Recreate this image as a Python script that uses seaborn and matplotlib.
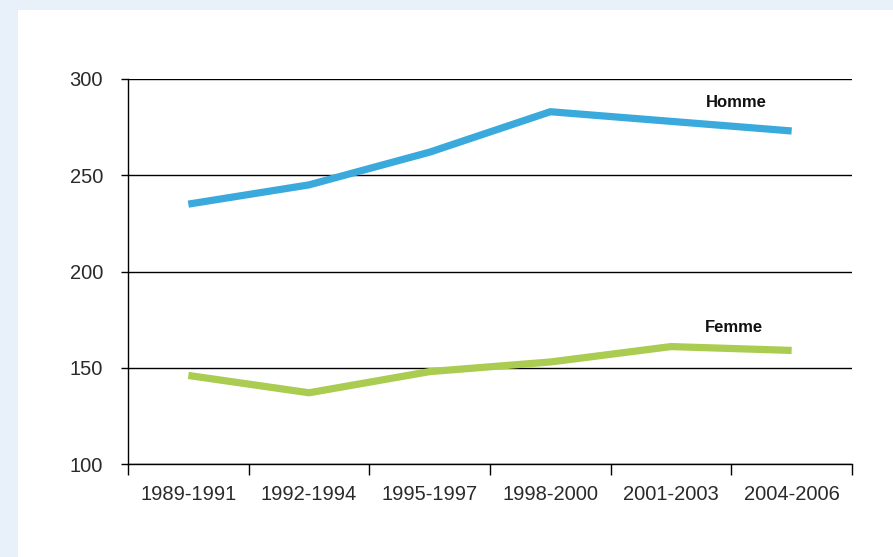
import matplotlib
matplotlib.use("Agg")
import matplotlib.pyplot as plt
import matplotlib.patches as mpatches
import seaborn as sns
import pandas as pd

# values
periods = ["1989-1991", "1992-1994", "1995-1997", "1998-2000", "2001-2003", "2004-2006"]
homme = [235, 245, 262, 283, 278, 273]
femme = [146, 137, 148, 153, 161, 159]

blue = "#3aaadc"
green = "#aacc50"

sns.set_theme(style="white")
plt.rcParams["font.family"] = ["Liberation Sans", "DejaVu Sans"]

df = pd.DataFrame({"periode": periods, "Homme": homme, "Femme": femme})
long_df = df.melt(id_vars="periode", var_name="sexe", value_name="valeur")

fig = plt.figure(figsize=(8.93, 5.57), dpi=100, facecolor="#e8f1f9")
# white card over the light blue background
card = mpatches.Rectangle((18 / 893, 0), 1, (557 - 10) / 557,
                          transform=fig.transFigure, facecolor="white",
                          edgecolor="none", zorder=-10)
fig.patches.append(card)
ax = fig.add_axes([128 / 893, 93 / 557, 724 / 893, 385 / 557])
ax.set_zorder(5)
ax.set_facecolor("white")

sns.lineplot(data=long_df, x="periode", y="valeur", hue="sexe",
             palette={"Homme": blue, "Femme": green}, linewidth=5.2,
             legend=False, ax=ax, zorder=3)
for line in ax.lines:
    line.set_solid_capstyle("butt")
    line.set_solid_joinstyle("miter")

ax.set_xlim(-0.5, 5.5)
ax.set_ylim(100, 300)

# gridlines
ax.set_yticks([100, 150, 200, 250, 300])
ax.yaxis.grid(True, color="black", linewidth=1.0)
ax.set_axisbelow(True)

# tick marks at category boundaries, labels at centers
ax.set_xticks([i - 0.5 for i in range(7)])
ax.set_xticklabels([])
ax.set_xticks(range(len(periods)), minor=True)
ax.set_xticklabels(periods, minor=True)
ax.tick_params(axis="x", which="major", direction="out", length=8, width=1,
               color="black", bottom=True)
ax.tick_params(axis="x", which="minor", length=0, pad=15, labelsize=14.5,
               labelcolor="#2a2a2a")
ax.tick_params(axis="y", direction="out", length=5, width=1, color="black",
               left=True, pad=13, labelsize=14.5, labelcolor="#2a2a2a")

for side in ["top", "right"]:
    ax.spines[side].set_visible(False)
for side in ["left", "bottom"]:
    ax.spines[side].set_color("black")
    ax.spines[side].set_linewidth(1.0)

ax.set_xlabel("")
ax.set_ylabel("")

label_font = ["Liberation Sans Narrow", "Liberation Sans", "DejaVu Sans"]
ax.text(4.54, 288, "Homme", ha="center", va="center", fontsize=12,
        fontweight="bold", family=label_font, color="#111111")
ax.text(4.52, 171, "Femme", ha="center", va="center", fontsize=12,
        fontweight="bold", family=label_font, color="#111111")

fig.savefig("out.png", dpi=100, facecolor=fig.get_facecolor())
